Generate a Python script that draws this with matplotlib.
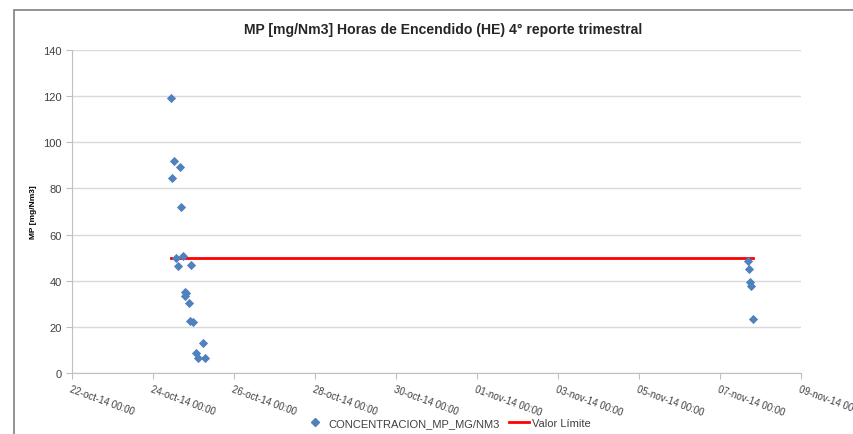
import datetime as dt
import matplotlib
matplotlib.use("Agg")
import matplotlib.pyplot as plt
from matplotlib.patches import Rectangle
from matplotlib.lines import Line2D

plt.rcParams['font.family'] = ['Liberation Sans', 'DejaVu Sans']

# mediciones (fecha, concentracion)
fechas = [
    "2014-10-24 10:29", "2014-10-24 12:16", "2014-10-24 15:49", "2014-10-24 11:26",
    "2014-10-24 16:35", "2014-10-24 17:36", "2014-10-24 13:27", "2014-10-24 14:38",
    "2014-10-24 22:31", "2014-10-24 19:00", "2014-10-24 19:45", "2014-10-24 18:40",
    "2014-10-24 21:30", "2014-10-24 21:50", "2014-10-24 23:30", "2014-10-25 05:27",
    "2014-10-25 01:29", "2014-10-25 02:40", "2014-10-25 06:39",
    "2014-11-07 16:20", "2014-11-07 17:00", "2014-11-07 17:50", "2014-11-07 18:30",
    "2014-11-07 19:40",
]
conc = [119.2, 91.9, 89.3, 84.5,
        72.0, 50.7, 49.7, 46.5,
        46.9, 35.1, 34.7, 33.4,
        30.3, 22.5, 22.0, 12.9,
        8.7, 6.4, 6.4,
        48.7, 45.2, 39.6, 37.6,
        23.4]
limite = 50
tick_fechas = ["2014-10-22", "2014-10-24", "2014-10-26", "2014-10-28", "2014-10-30",
               "2014-11-01", "2014-11-03", "2014-11-05", "2014-11-07", "2014-11-09"]
tick_labels = ["22-oct-14 00:00", "24-oct-14 00:00", "26-oct-14 00:00", "28-oct-14 00:00",
               "30-oct-14 00:00", "01-nov-14 00:00", "03-nov-14 00:00", "05-nov-14 00:00",
               "07-nov-14 00:00", "09-nov-14 00:00"]

x = [dt.datetime.strptime(f, "%Y-%m-%d %H:%M") for f in fechas]
xt = [dt.datetime.strptime(f, "%Y-%m-%d") for f in tick_fechas]

fig = plt.figure(figsize=(8.54, 4.35), dpi=100)
fig.patches.append(Rectangle((14/854, -0.1), 1.2, 1 - 11/435 + 0.1, transform=fig.transFigure,
                             fill=False, edgecolor='#808080', linewidth=1.2))
ax = fig.add_axes([72/854, 61/435, 729/854, 323/435])

ax.plot([min(x), max(x)], [limite, limite], color='#FF0000', linewidth=2, zorder=2)
ax.scatter(x, conc, marker='D', s=22, color='#4F81BD', zorder=3, linewidths=0)

ax.set_xlim(xt[0], xt[-1])
ax.set_ylim(0, 140)
ax.set_yticks(range(0, 141, 20))
ax.set_xticks(xt)
ax.set_xticklabels(tick_labels, rotation=-20, ha='left', va='top', rotation_mode='anchor',
                   fontsize=7, color='#404040')
ax.tick_params(axis='y', labelsize=8, colors='#404040', length=4, color='#BFBFBF')
ax.tick_params(axis='x', length=4, color='#BFBFBF')
ax.yaxis.grid(True, color='#D9D9D9', linewidth=1)
ax.set_axisbelow(True)
for s in ['top', 'right']:
    ax.spines[s].set_visible(False)
ax.spines['left'].set_color('#BFBFBF')
ax.spines['bottom'].set_color('#BFBFBF')

ax.set_ylabel("MP [mg/Nm3]", fontsize=6, fontweight='bold', labelpad=4)
fig.text(443/854, 1 - 30/435, "MP [mg/Nm3] Horas de Encendido (HE) 4° reporte trimestral",
         ha='center', va='center', fontsize=10.1, fontweight='bold', color='#262626')

handles = [Line2D([], [], marker='D', linestyle='none', color='#4F81BD', markersize=4.5),
           Line2D([], [], color='#FF0000', linewidth=2)]
fig.legend(handles, ["CONCENTRACION_MP_MG/NM3", "Valor Límite"], loc='center',
           bbox_to_anchor=(448/854, 1 - 424/435), ncol=2, frameon=False, fontsize=8,
           handlelength=1.8, columnspacing=0.8, handletextpad=0.3, labelcolor='#404040')

fig.savefig("out.png", dpi=100)
